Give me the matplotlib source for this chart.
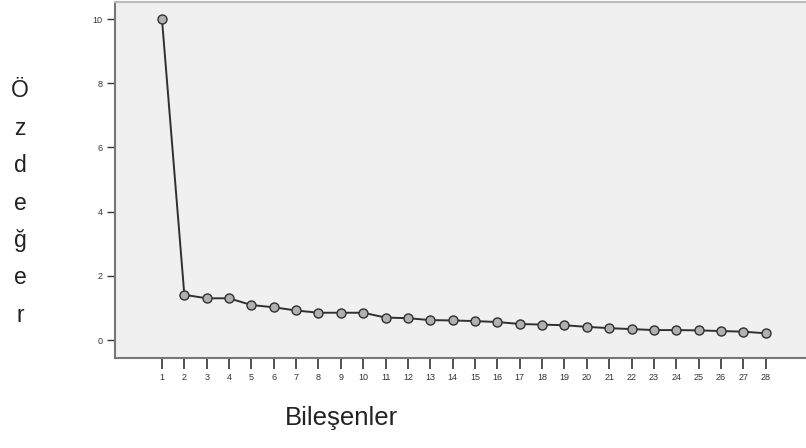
import numpy as np
import matplotlib.pyplot as plt

plt.rcParams['font.family'] = ['Liberation Sans', 'DejaVu Sans']

# component numbers and eigenvalues
components = list(range(1, 29))
eigenvalues = [10.0, 1.41, 1.30, 1.30, 1.09, 1.02, 0.92, 0.85, 0.85, 0.85,
               0.70, 0.68, 0.62, 0.61, 0.59, 0.56, 0.50, 0.48, 0.46, 0.41,
               0.37, 0.34, 0.31, 0.31, 0.30, 0.28, 0.26, 0.21]
y_ticks = [0, 2, 4, 6, 8, 10]

fig = plt.figure(figsize=(8.06, 4.48), dpi=100)
ax = fig.add_axes([115 / 806, 1 - 358 / 448, 1 - 115 / 806, 356 / 448])
ax.set_facecolor('#f0f0f0')

ax.plot(components, eigenvalues, color='#303030', lw=1.4,
        marker='o', markersize=6.5, markerfacecolor='#b0b0b0',
        markeredgecolor='#303030', markeredgewidth=1.0)

ax.set_xlim(-1.1, 29.8)
ax.set_ylim(-0.56, 10.53)
ax.set_xticks(components)
ax.set_xticklabels([str(c) for c in components])
ax.set_yticks(y_ticks)

ax.tick_params(axis='both', labelsize=6.5, colors='#333333', direction='out')
ax.tick_params(axis='y', length=6, width=1.0, pad=3)
ax.tick_params(axis='x', length=8, width=1.2, pad=3)

for side in ['left', 'bottom']:
    ax.spines[side].set_color('#777777')
    ax.spines[side].set_linewidth(1.5)
ax.spines['top'].set_color('#bbbbbb')
ax.spines['top'].set_linewidth(1.5)
ax.spines['right'].set_visible(False)

fig.text(341 / 806, 1 - 418 / 448, 'Bileşenler', ha='center', va='center',
         fontsize=18.5, color='#222222')
fig.text(20 / 806, 1 - 203 / 448, '\n'.join('Özdeğer'), ha='center', va='center',
         fontsize=16.5, color='#222222', linespacing=1.8)

fig.savefig('out.png', dpi=100)
